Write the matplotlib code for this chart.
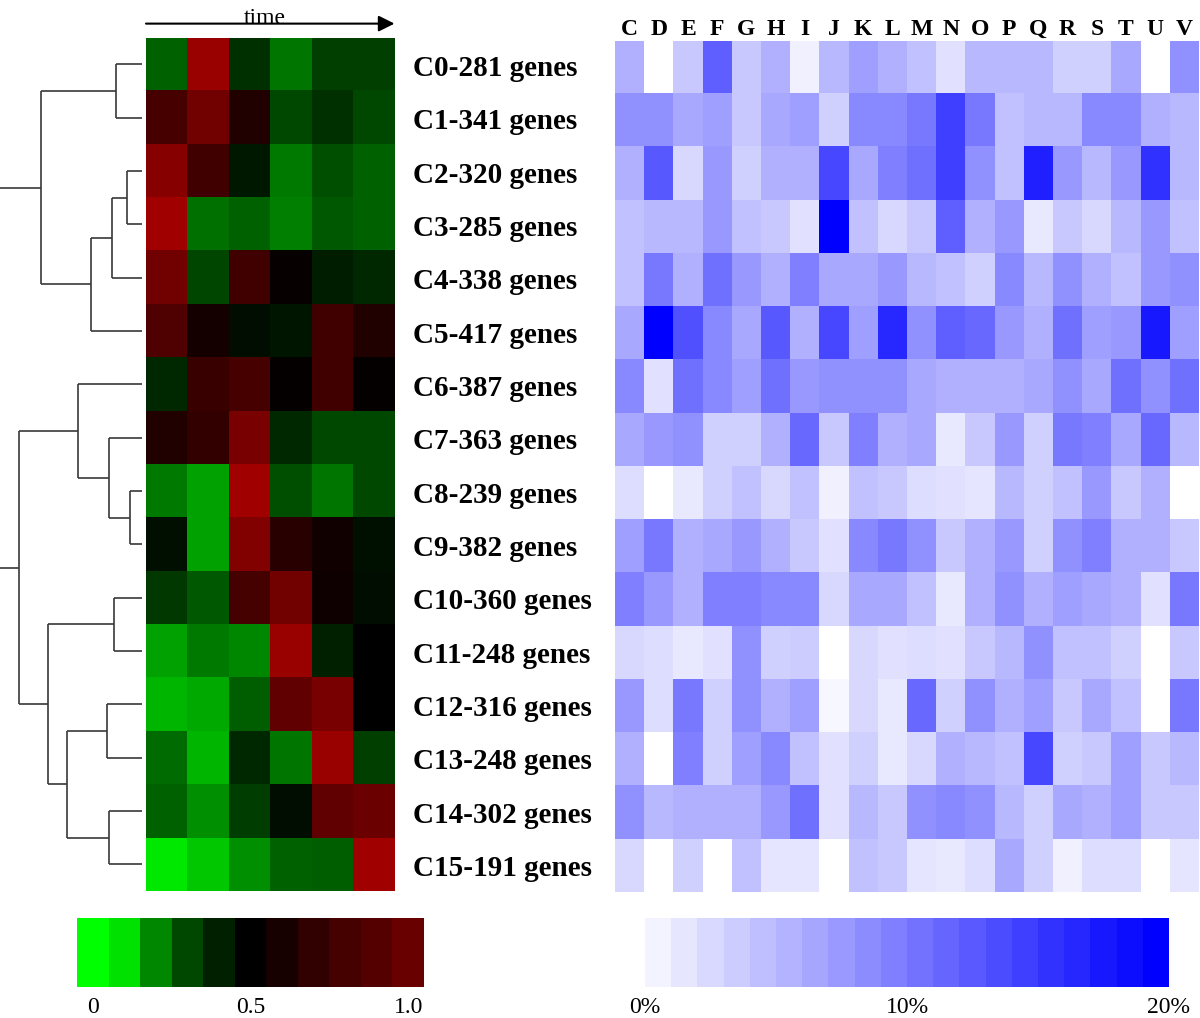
import numpy as np
import matplotlib
matplotlib.use("Agg")
import matplotlib.pyplot as plt
from matplotlib.colors import LinearSegmentedColormap

# ---------------- data ----------------
clusters = ["C0-281 genes", "C1-341 genes", "C2-320 genes", "C3-285 genes",
            "C4-338 genes", "C5-417 genes", "C6-387 genes", "C7-363 genes",
            "C8-239 genes", "C9-382 genes", "C10-360 genes", "C11-248 genes",
            "C12-316 genes", "C13-248 genes", "C14-302 genes", "C15-191 genes"]

# relative expression over 6 time points (negative = green, positive = red)
expression = np.array([
    [-0.38, 0.60, -0.19, -0.46, -0.25, -0.25],
    [0.28, 0.44, 0.13, -0.28, -0.19, -0.28],
    [0.53, 0.25, -0.09, -0.47, -0.31, -0.38],
    [0.63, -0.44, -0.38, -0.50, -0.35, -0.38],
    [0.44, -0.27, 0.25, 0.03, -0.11, -0.16],
    [0.31, 0.08, -0.05, -0.08, 0.25, 0.13],
    [-0.16, 0.22, 0.28, 0.02, 0.25, 0.02],
    [0.13, 0.20, 0.47, -0.16, -0.28, -0.28],
    [-0.47, -0.63, 0.63, -0.31, -0.46, -0.28],
    [-0.06, -0.63, 0.50, 0.16, 0.07, -0.07],
    [-0.22, -0.35, 0.27, 0.44, 0.06, -0.05],
    [-0.63, -0.47, -0.53, 0.60, -0.13, 0.00],
    [-0.71, -0.66, -0.36, 0.38, 0.47, 0.00],
    [-0.42, -0.71, -0.16, -0.46, 0.60, -0.25],
    [-0.38, -0.56, -0.24, -0.05, 0.38, 0.42],
    [-0.90, -0.78, -0.56, -0.38, -0.36, 0.63],
])

categories = list("CDEFGHIJKLMNOPQRSTUV")

# percentage of genes per functional category
category_pct = np.array([
    [6.2, 0, 4.3, 12.5, 4.3, 6.2, 1.2, 5.6, 7.5, 6.2, 4.9, 2.4, 5.6, 5.6, 5.6, 3.7, 3.7, 6.8, 0, 8.7],
    [8.7, 8.7, 6.8, 7.5, 4.3, 6.8, 7.5, 3.7, 9.3, 9.3, 10.6, 15.0, 10.6, 4.9, 5.6, 5.6, 9.3, 9.3, 6.2, 5.6],
    [6.2, 13.1, 3.1, 8.1, 3.7, 6.2, 6.2, 14.4, 6.8, 10.0, 11.2, 15.0, 8.7, 4.9, 17.5, 8.1, 5.6, 8.1, 16.2, 5.6],
    [4.9, 5.6, 5.6, 8.1, 4.9, 4.3, 2.4, 20.0, 4.9, 3.1, 4.3, 12.5, 6.2, 8.1, 1.8, 4.3, 3.1, 5.6, 8.1, 4.9],
    [4.9, 10.6, 6.2, 11.2, 8.1, 6.2, 10.0, 6.8, 6.8, 8.1, 5.6, 4.9, 3.7, 9.3, 5.6, 8.7, 6.2, 4.9, 8.1, 8.7],
    [6.8, 20.0, 13.7, 9.3, 6.8, 13.1, 6.2, 14.4, 7.5, 16.9, 8.7, 12.5, 11.8, 8.1, 6.2, 11.2, 7.5, 8.1, 18.1, 7.5],
    [9.3, 2.4, 11.2, 9.3, 7.5, 11.2, 8.1, 8.7, 8.7, 8.7, 6.8, 6.2, 6.2, 6.2, 6.8, 8.7, 6.8, 11.2, 8.7, 11.2],
    [6.8, 8.1, 8.7, 3.7, 3.7, 6.2, 11.8, 4.3, 10.0, 6.2, 6.8, 1.8, 4.3, 8.1, 3.7, 10.6, 10.0, 6.8, 11.8, 5.6],
    [2.7, 0, 1.8, 3.7, 4.9, 3.1, 4.9, 1.2, 4.9, 4.3, 2.7, 2.4, 2.1, 5.6, 3.7, 4.9, 8.1, 4.3, 6.2, 0],
    [7.5, 10.6, 6.2, 6.8, 8.1, 6.2, 4.3, 2.4, 9.3, 10.6, 8.7, 4.3, 6.2, 8.1, 3.7, 8.7, 10.0, 6.2, 6.2, 4.3],
    [10.0, 8.1, 6.2, 10.0, 10.0, 9.3, 9.3, 3.1, 6.8, 6.8, 4.9, 1.8, 6.2, 8.7, 6.2, 7.5, 6.8, 6.2, 2.4, 10.6],
    [3.1, 2.7, 1.8, 2.4, 8.7, 3.7, 4.0, 0, 3.1, 2.4, 2.7, 2.4, 4.3, 5.6, 8.7, 4.9, 4.9, 3.7, 0, 4.3],
    [8.1, 2.7, 10.6, 3.7, 8.7, 6.2, 7.5, 0.7, 3.1, 1.8, 11.8, 3.7, 8.7, 6.2, 7.5, 4.3, 6.8, 4.9, 0, 10.6],
    [6.2, 0, 10.0, 3.7, 7.5, 9.3, 4.9, 2.4, 3.7, 1.8, 3.1, 6.2, 5.6, 4.9, 14.4, 3.7, 4.3, 7.5, 4.3, 5.6],
    [8.7, 5.6, 6.2, 6.2, 6.2, 8.1, 11.2, 2.4, 5.6, 4.3, 8.7, 9.3, 8.7, 5.6, 3.7, 6.8, 6.2, 7.5, 4.3, 4.3],
    [3.1, 0, 3.7, 0, 4.9, 2.1, 2.1, 0, 4.9, 4.3, 2.1, 1.8, 2.7, 6.8, 3.7, 1.2, 2.7, 2.7, 0, 2.1],
])

# hierarchical clustering merges: (child a, child b, distance); new node ids start at 16
merges = [
    (0, 1, 26), (2, 3, 15), (17, 4, 30), (18, 5, 51), (16, 19, 101),
    (8, 9, 12), (7, 21, 33), (6, 22, 64), (10, 11, 28), (12, 13, 35),
    (14, 15, 33), (25, 26, 75), (24, 27, 94), (23, 28, 123), (20, 29, 142),
]

expr_scale_levels = [-1.0, -0.88, -0.53, -0.28, -0.13, 0.0, 0.09, 0.19, 0.27, 0.33, 0.41]
expr_scale_labels = ["0", "0.5", "1.0"]
pct_scale_levels = np.arange(1, 21)
pct_scale_labels = ["0%", "10%", "20%"]

# ---------------- figure ----------------
W, H = 1200, 1018
fig = plt.figure(figsize=(W / 100, H / 100), dpi=100)
SERIF = ["Liberation Serif", "DejaVu Serif"]


def px_axes(l, t, r, b):
    return fig.add_axes([l / W, 1 - b / H, (r - l) / W, (b - t) / H])


gbr = LinearSegmentedColormap.from_list("gbr", [(0, (0, 1, 0)), (0.5, (0, 0, 0)), (1, (1, 0, 0))])
wb = LinearSegmentedColormap.from_list("wb", [(1, 1, 1), (0, 0, 1)])

n = len(clusters)

# dendrogram
ax_d = px_axes(0, 37.7, 146, 891)
pos = {i: i + 0.5 for i in range(n)}
hgt = {i: 0.0 for i in range(n)}
lc = "#383838"
for k, (a, b, h) in enumerate(merges):
    node = n + k
    ya, yb = pos[a], pos[b]
    ax_d.plot([hgt[a], h], [ya, ya], color=lc, lw=1.2, clip_on=False, solid_capstyle="butt")
    ax_d.plot([hgt[b], h], [yb, yb], color=lc, lw=1.2, clip_on=False, solid_capstyle="butt")
    ax_d.plot([h, h], [ya, yb], color=lc, lw=1.2, clip_on=False, solid_capstyle="butt")
    pos[node] = (ya + yb) / 2
    hgt[node] = h
ax_d.set_xlim(141.5, -4)
ax_d.set_ylim(n, 0)
ax_d.axis("off")

# expression heatmap
ax_h = px_axes(146, 37.7, 394.5, 891)
ax_h.imshow(expression, cmap=gbr, vmin=-1, vmax=1, aspect="auto", interpolation="nearest")
ax_h.axis("off")
ncol = expression.shape[1]
for i, lab in enumerate(clusters):
    ax_h.text(ncol - 0.5 + (413 - 394.5) / (248.5 / ncol), i + 0.22, lab,
              ha="left", va="baseline", fontsize=21, fontweight="bold", family=SERIF)

# time arrow
ax_h.annotate("", xy=(1.0, 1.0165), xytext=(0.0, 1.0165), xycoords="axes fraction",
              arrowprops=dict(arrowstyle="-|>", color="black", lw=1.5, mutation_scale=24,
                              shrinkA=0, shrinkB=0), annotation_clip=False)
fig.text(265 / W, 1 - 24 / H, "time", ha="center", va="baseline", fontsize=17, family=SERIF)

# category heatmap
ax_b = px_axes(615, 40.7, 1199, 892)
ax_b.imshow(category_pct, cmap=wb, vmin=0, vmax=20, aspect="auto", interpolation="nearest")
ax_b.axis("off")
for j, c in enumerate(categories):
    ax_b.text(j, -0.61, c, ha="center", va="baseline", fontsize=17, fontweight="bold", family=SERIF)

# expression scale bar
ax_c1 = px_axes(77, 918, 424, 987)
ax_c1.imshow([expr_scale_levels], cmap=gbr, vmin=-1, vmax=1, aspect="auto", interpolation="nearest")
ax_c1.set_ylim(0.5, -0.5)
ax_c1.axis("off")
for x, lab in zip([0, 5, 10], expr_scale_labels):
    ax_c1.text(x, 0.88, lab, ha="center", va="baseline", fontsize=17, family=SERIF)

# percentage scale bar
ax_c2 = px_axes(645, 918, 1169, 987)
ax_c2.imshow([pct_scale_levels], cmap=wb, vmin=0, vmax=20, aspect="auto", interpolation="nearest",
             extent=(0, 20, 0.5, -0.5))
ax_c2.set_xlim(0, 20)
ax_c2.set_ylim(0.5, -0.5)
ax_c2.axis("off")
for x, lab in zip([0, 10, 20], pct_scale_labels):
    ax_c2.text(x, 0.88, lab, ha="center", va="baseline", fontsize=17, family=SERIF)

fig.savefig("out.png", dpi=100)
